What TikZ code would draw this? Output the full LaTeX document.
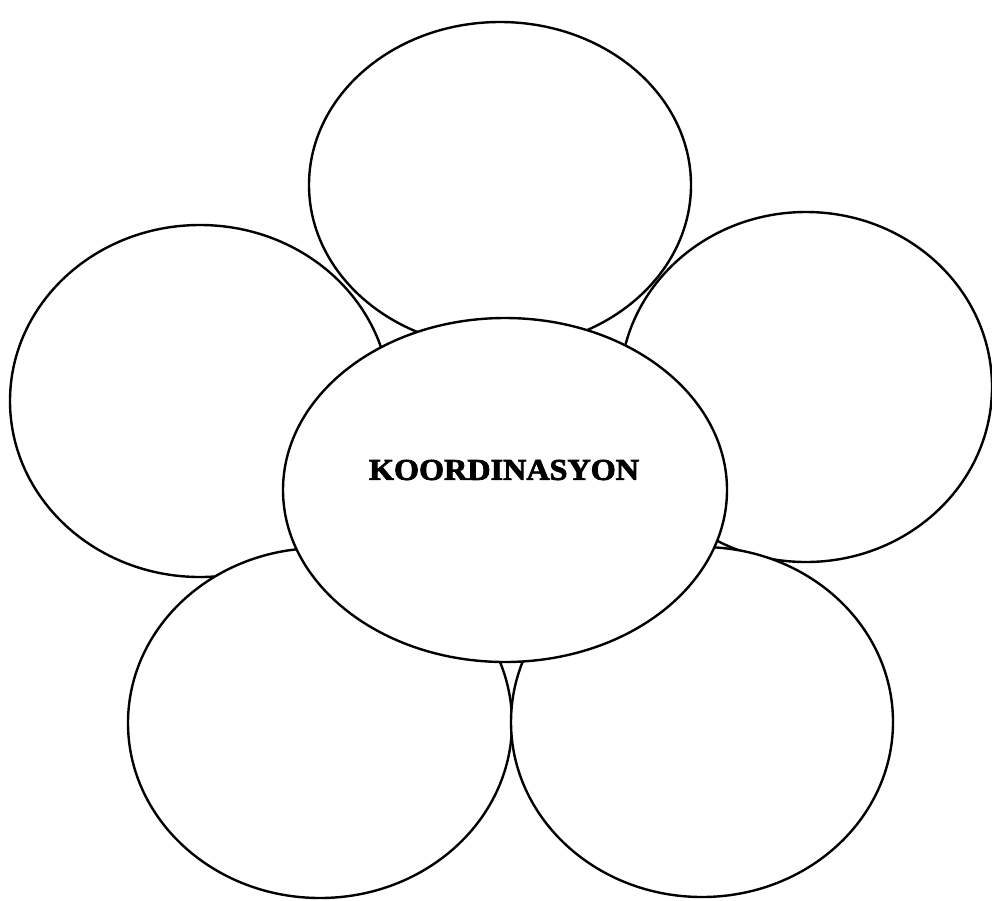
\documentclass[tikz,border=0pt]{standalone}
\usepackage{fontspec}
\newfontfamily\titlefont[FakeBold=2.5]{Liberation Serif}
\begin{document}
\begin{tikzpicture}[x=1pt,y=-1pt,
  petal/.style={draw=black,line width=2.4pt},
  petalfill/.style={petal,fill=white}]
\useasboundingbox (0,0) rectangle (992,900);
\draw[petal] (200,401) ellipse [x radius=190,y radius=176];
\draw[petal] (500,185) ellipse [x radius=191,y radius=163];
\draw[petal] (806,387) ellipse [x radius=186,y radius=175];
\draw[petalfill] (320,723) ellipse [x radius=192,y radius=175];
\draw[petalfill] (702,722) ellipse [x radius=191,y radius=175];
\draw[petalfill] (505,490) ellipse [x radius=222,y radius=172];
\node (c) at (504,470) {\resizebox{270pt}{20pt}{\titlefont\bfseries KOORDINASYON}};
\end{tikzpicture}
\end{document}
